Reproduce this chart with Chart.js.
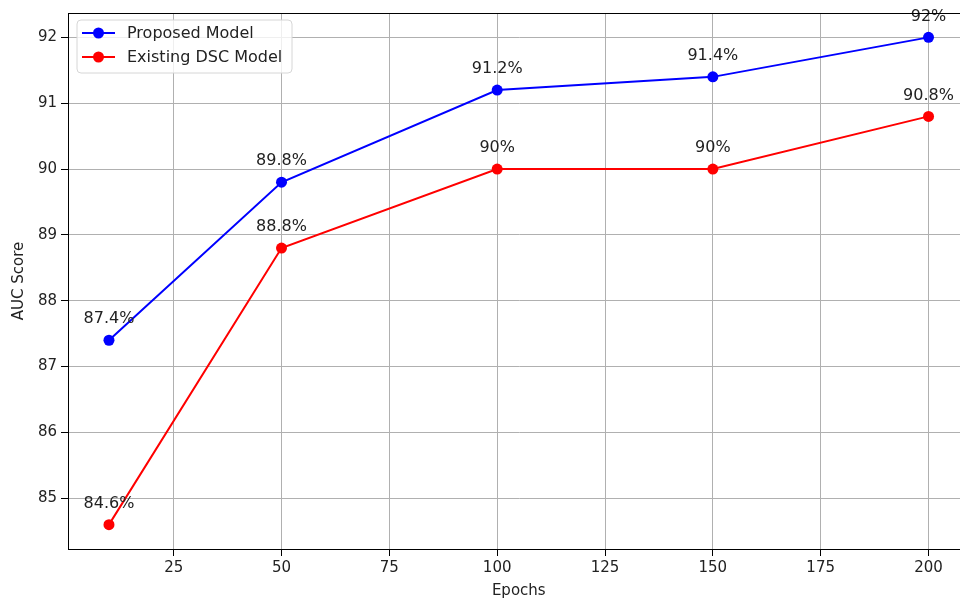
<!DOCTYPE html>
<html>
<head>
<meta charset="utf-8">
<title>AUC Score vs Epochs</title>
<script src="https://cdn.jsdelivr.net/npm/chart.js@4/dist/chart.umd.min.js"></script>
<style>
  html, body { margin: 0; padding: 0; background: #fff; overflow: hidden; }
  #wrap { width: 975px; height: 600px; }
</style>
</head>
<body>
<div id="wrap"><canvas id="aucChart" width="975" height="600"></canvas></div>
<script>
// ---- data ----
const epochs      = [10, 50, 100, 150, 200];
const proposedAuc = [87.4, 89.8, 91.2, 91.4, 92];
const existingAuc = [84.6, 88.8, 90, 90, 90.8];
const xTicks      = [25, 50, 75, 100, 125, 150, 175, 200];
const yTicks      = [85, 86, 87, 88, 89, 90, 91, 92];

const FONT = "'DejaVu Sans', sans-serif";

const toPoints = vals => vals.map((v, i) => ({ x: epochs[i], y: v }));

// value labels above each marker, e.g. "91.2%"
const valueLabels = {
  id: 'valueLabels',
  afterDatasetsDraw(chart) {
    const ctx = chart.ctx;
    ctx.save();
    ctx.font = '16px ' + FONT;
    ctx.fillStyle = '#222';
    ctx.textAlign = 'center';
    ctx.textBaseline = 'middle';
    chart.data.datasets.forEach((ds, di) => {
      chart.getDatasetMeta(di).data.forEach((pt, i) => {
        ctx.fillText(ds.data[i].y + '%', pt.x, pt.y - 21);
      });
    });
    ctx.restore();
  }
};

// full box around the axes + matplotlib style legend in upper-left
const frameAndLegend = {
  id: 'frameAndLegend',
  afterDraw(chart) {
    const { ctx, chartArea: a } = chart;
    ctx.save();
    ctx.strokeStyle = '#000';
    ctx.lineWidth = 1;
    ctx.strokeRect(a.left + 0.5, a.top + 0.5, a.right - a.left, a.bottom - a.top);

    // legend box
    const bx = 77, by = 20, bw = 215, bh = 53, r = 4;
    ctx.beginPath();
    ctx.moveTo(bx + r, by);
    ctx.arcTo(bx + bw, by, bx + bw, by + bh, r);
    ctx.arcTo(bx + bw, by + bh, bx, by + bh, r);
    ctx.arcTo(bx, by + bh, bx, by, r);
    ctx.arcTo(bx, by, bx + bw, by, r);
    ctx.closePath();
    ctx.fillStyle = 'rgba(255,255,255,0.8)';
    ctx.fill();
    ctx.strokeStyle = '#d6d6d6';
    ctx.stroke();

    ctx.font = '16px ' + FONT;
    ctx.textBaseline = 'middle';
    ctx.textAlign = 'left';
    chart.data.datasets.forEach((ds, i) => {
      const y = by + 13 + i * 24;
      ctx.strokeStyle = ds.borderColor;
      ctx.lineWidth = 2;
      ctx.beginPath();
      ctx.moveTo(82, y);
      ctx.lineTo(115, y);
      ctx.stroke();
      ctx.fillStyle = ds.borderColor;
      ctx.beginPath();
      ctx.arc(98.5, y, 5.5, 0, Math.PI * 2);
      ctx.fill();
      ctx.fillStyle = '#222';
      ctx.fillText(ds.label, 127, y + 1);
    });
    ctx.restore();
  }
};

new Chart(document.getElementById('aucChart').getContext('2d'), {
  type: 'line',
  data: {
    datasets: [
      {
        label: 'Proposed Model',
        data: toPoints(proposedAuc),
        borderColor: '#0000ff',
        backgroundColor: '#0000ff',
        borderWidth: 2,
        pointRadius: 5.5,
        pointBorderWidth: 0,
        tension: 0,
      },
      {
        label: 'Existing DSC Model',
        data: toPoints(existingAuc),
        borderColor: '#ff0000',
        backgroundColor: '#ff0000',
        borderWidth: 2,
        pointRadius: 5.5,
        pointBorderWidth: 0,
        tension: 0,
      }
    ]
  },
  options: {
    responsive: false,
    animation: false,
    layout: { padding: { top: 12, right: 5, left: 0, bottom: 0 } },
    plugins: {
      legend: { display: false },
      tooltip: { enabled: false }
    },
    scales: {
      x: {
        type: 'linear',
        min: 0.5,
        max: 209.5,
        afterBuildTicks: axis => { axis.ticks = xTicks.map(v => ({ value: v })); },
        afterFit: axis => { axis.height = 51; },
        grid: { color: '#b0b0b0', lineWidth: 1, tickColor: '#000', tickLength: 7 },
        border: { color: '#000', width: 1 },
        ticks: { color: '#222', font: { family: FONT, size: 15 }, padding: 3, maxRotation: 0 },
        title: { display: true, text: 'Epochs', color: '#222', font: { family: FONT, size: 15 }, padding: { top: 2, bottom: 0 } }
      },
      y: {
        min: 84.23,
        max: 92.37,
        afterBuildTicks: axis => { axis.ticks = yTicks.map(v => ({ value: v })); },
        afterFit: axis => { axis.width = 68; },
        grid: { color: '#b0b0b0', lineWidth: 1, tickColor: '#000', tickLength: 7 },
        border: { color: '#000', width: 1 },
        ticks: { color: '#222', font: { family: FONT, size: 15 }, padding: 4 },
        title: { display: true, text: 'AUC Score', color: '#222', font: { family: FONT, size: 15 }, padding: { top: 10, bottom: 4 } }
      }
    }
  },
  plugins: [valueLabels, frameAndLegend]
});
</script>
</body>
</html>
